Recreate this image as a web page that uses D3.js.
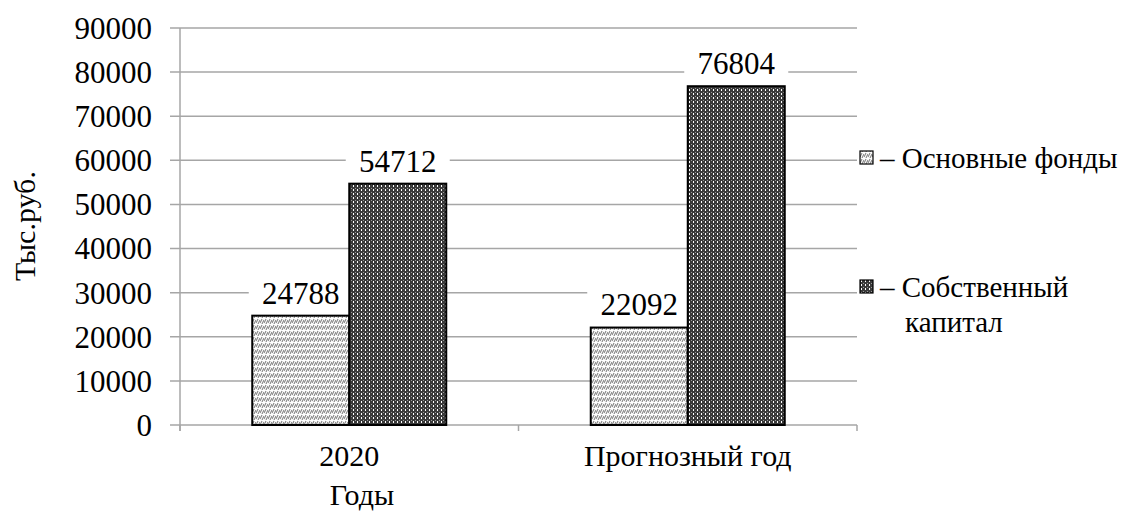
<!DOCTYPE html>
<html>
<head>
<meta charset="utf-8">
<script src="https://cdn.jsdelivr.net/npm/d3@7"></script>
</head>
<body style="margin:0">
<script>
// data
const categories = ["2020", "Прогнозный год"];
const seriesNames = ["Основные фонды", "Собственный капитал"];
const fixedAssets = [24788, 22092];
const equity = [54712, 76804];
const yTicks = [0, 10000, 20000, 30000, 40000, 50000, 60000, 70000, 80000, 90000];

const width = 1123, height = 512;
const margin = { left: 180, right: 266, top: 28, bottom: 87 };
const FONT = "Tinos, 'Liberation Serif', FreeSerif, 'Times New Roman', serif";

const svg = d3.select("body").append("svg")
    .attr("width", width)
    .attr("height", height);

// patterns
const defs = svg.append("defs");
const light = defs.append("pattern")
    .attr("id", "lightPat")
    .attr("patternUnits", "userSpaceOnUse")
    .attr("width", 4).attr("height", 6);
light.append("rect").attr("width", 4).attr("height", 6).attr("fill", "#fff");
light.append("path").attr("d", "M0,5 L2,1 M2,6 L4,2").attr("stroke", "#8a8a8a").attr("stroke-width", 1.2);

const dark = defs.append("pattern")
    .attr("id", "darkPat")
    .attr("patternUnits", "userSpaceOnUse")
    .attr("width", 4).attr("height", 4);
dark.append("rect").attr("width", 4).attr("height", 4).attr("fill", "#3a3a3a");
dark.append("rect").attr("x", 1).attr("y", 1).attr("width", 1).attr("height", 2).attr("fill", "#fff");
dark.append("rect").attr("x", 3).attr("y", 0).attr("width", 1).attr("height", 1).attr("fill", "#999");

const x0 = d3.scaleBand()
    .domain(categories)
    .range([margin.left, width - margin.right]);

const x1 = d3.scaleBand()
    .domain([0, 1])
    .range([-97, 97]);

const y = d3.scaleLinear()
    .domain([0, 90000])
    .range([height - margin.bottom, margin.top]);

// gridlines
svg.append("g")
    .selectAll("line")
    .data(yTicks)
    .enter().append("line")
    .attr("x1", margin.left - 10)
    .attr("x2", width - margin.right)
    .attr("y1", d => y(d))
    .attr("y2", d => y(d))
    .attr("stroke", "#a6a6a6")
    .attr("stroke-width", 1.5);

// y axis line
svg.append("line")
    .attr("x1", margin.left).attr("x2", margin.left)
    .attr("y1", y(90000)).attr("y2", y(0) + 6)
    .attr("stroke", "#a6a6a6").attr("stroke-width", 1.5);

// x tick marks at band boundaries
svg.append("g")
    .selectAll("line")
    .data([margin.left, x0("Прогнозный год"), width - margin.right])
    .enter().append("line")
    .attr("x1", d => d).attr("x2", d => d)
    .attr("y1", y(0)).attr("y2", y(0) + 6)
    .attr("stroke", "#a6a6a6").attr("stroke-width", 1.5);

// y tick labels
svg.append("g")
    .selectAll("text")
    .data(yTicks)
    .enter().append("text")
    .attr("font-family", FONT)
    .attr("x", margin.left - 28)
    .attr("y", d => y(d))
    .attr("dy", "0.35em")
    .attr("text-anchor", "end")
    .attr("font-size", 31)
    .text(d => d);

const series = [fixedAssets, equity];
const pats = ["url(#lightPat)", "url(#darkPat)"];
const barData = [];
categories.forEach((c, i) => {
    series.forEach((s, j) => barData.push({ cat: c, s: j, v: s[i] }));
});

const cx = c => x0(c) + x0.bandwidth() / 2;
const labelX = d => cx(d.cat) + x1(d.s) + x1.bandwidth() / 2;
const labelY = d => y(d.v) - 23;

// white backgrounds of value labels (behind bars, they only break the gridlines)
svg.append("g")
    .selectAll("rect")
    .data(barData)
    .enter().append("rect")
    .attr("x", d => labelX(d) - 52)
    .attr("y", d => labelY(d) - 18)
    .attr("width", 104).attr("height", 36)
    .attr("fill", "#fff");

// bars
svg.append("g")
    .selectAll("rect")
    .data(barData)
    .enter().append("rect")
    .attr("x", d => cx(d.cat) + x1(d.s))
    .attr("y", d => y(d.v))
    .attr("width", x1.bandwidth())
    .attr("height", d => y(0) - y(d.v))
    .attr("fill", d => pats[d.s])
    .attr("stroke", "#000")
    .attr("stroke-width", 2);

// value labels
svg.append("g")
    .selectAll("text")
    .data(barData)
    .enter().append("text")
    .attr("font-family", FONT)
    .attr("x", labelX)
    .attr("y", labelY)
    .attr("text-anchor", "middle")
    .attr("dy", "0.35em")
    .attr("font-size", 31)
    .text(d => d.v);

// category labels
svg.append("g")
    .selectAll("text")
    .data(categories)
    .enter().append("text")
    .attr("font-family", FONT)
    .attr("x", d => cx(d))
    .attr("y", y(0) + 30)
    .attr("dy", "0.35em")
    .attr("text-anchor", "middle")
    .attr("font-size", 30)
    .text(d => d);

// axis titles
svg.append("text")
    .attr("font-family", FONT)
    .attr("x", 362)
    .attr("y", 494)
    .attr("dy", "0.35em")
    .attr("text-anchor", "middle")
    .attr("font-size", 30)
    .text("Годы");

svg.append("text")
    .attr("font-family", FONT)
    .attr("transform", "translate(24,226) rotate(-90)")
    .attr("dy", "0.35em")
    .attr("text-anchor", "middle")
    .attr("font-size", 30)
    .text("Тыс.руб.");

// legend
const legendY = [158, 287];
const legend = svg.append("g")
    .selectAll("g")
    .data(seriesNames)
    .enter().append("g")
    .attr("transform", (d, i) => `translate(860,${legendY[i]})`);

legend.append("rect")
    .attr("x", 0).attr("y", -7)
    .attr("width", 13).attr("height", 13)
    .attr("fill", (d, i) => pats[i])
    .attr("stroke", "#000")
    .attr("stroke-width", 1.2);

legend.append("text")
    .attr("font-family", FONT)
    .attr("x", 20)
    .attr("dy", "0.35em")
    .attr("font-size", 29)
    .each(function(d) {
        const words = d.split(" ");
        const t = d3.select(this);
        if (d.startsWith("Собственный")) {
            t.append("tspan").attr("x", 20).text("– " + words[0]);
            t.append("tspan").attr("x", 45).attr("dy", "1.2em").text(words[1]);
        } else {
            t.text("– " + d);
        }
    });
</script>
</body>
</html>
